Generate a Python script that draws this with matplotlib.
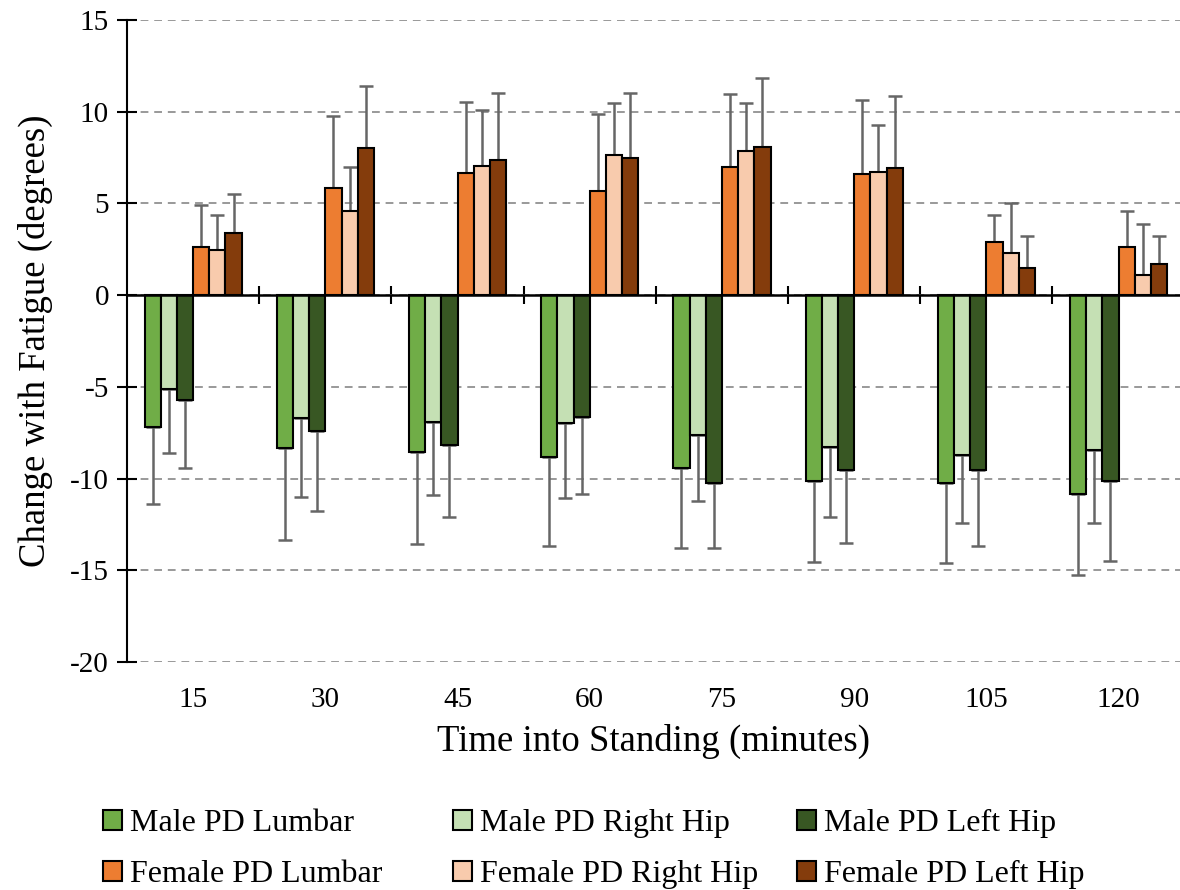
import numpy as np
import matplotlib.pyplot as plt

plt.rcParams['font.family'] = ['Liberation Serif', 'DejaVu Serif']
plt.rcParams['axes.unicode_minus'] = False

minutes = ['15', '30', '45', '60', '75', '90', '105', '120']
series = ['Male PD Lumbar', 'Male PD Right Hip', 'Male PD Left Hip',
          'Female PD Lumbar', 'Female PD Right Hip', 'Female PD Left Hip']
colors = ['#70AD47', '#C5E0B4', '#385723', '#ED7D31', '#F8CBAD', '#843C0C']

# mean change per series, one value per time point
male_lumbar = [-7.2, -8.35, -8.55, -8.8, -9.45, -10.15, -10.25, -10.85]
male_rhip = [-5.1, -6.7, -6.9, -6.95, -7.6, -8.3, -8.7, -8.45]
male_lhip = [-5.7, -7.4, -8.15, -6.65, -10.25, -9.55, -9.55, -10.15]
female_lumbar = [2.6, 5.85, 6.65, 5.7, 7.0, 6.6, 2.9, 2.65]
female_rhip = [2.45, 4.6, 7.05, 7.65, 7.85, 6.7, 2.3, 1.1]
female_lhip = [3.4, 8.0, 7.35, 7.5, 8.05, 6.95, 1.5, 1.7]

# standard deviations (drawn away from zero only)
male_lumbar_sd = [4.2, 5.0, 5.0, 4.9, 4.35, 4.4, 4.35, 4.4]
male_rhip_sd = [3.5, 4.3, 4.0, 4.1, 3.6, 3.8, 3.7, 3.95]
male_lhip_sd = [3.7, 4.35, 3.95, 4.2, 3.55, 3.95, 4.1, 4.35]
female_lumbar_sd = [2.3, 3.9, 3.9, 4.2, 3.95, 4.05, 1.45, 1.95]
female_rhip_sd = [1.9, 2.4, 3.05, 2.8, 2.65, 2.55, 2.75, 2.8]
female_lhip_sd = [2.1, 3.4, 3.65, 3.5, 3.8, 3.9, 1.75, 1.55]

means = [male_lumbar, male_rhip, male_lhip, female_lumbar, female_rhip, female_lhip]
sds = [male_lumbar_sd, male_rhip_sd, male_lhip_sd, female_lumbar_sd, female_rhip_sd, female_lhip_sd]

fig = plt.figure(figsize=(11.8, 8.9), dpi=100)
ax = fig.add_axes([127/1180, 1-662/890, 1-127/1180, 642/890])

x = np.arange(len(minutes))
w = 0.1225
handles = []
for i in range(6):
    m = np.array(means[i])
    s = np.array(sds[i])
    lower = np.where(m < 0, s, 0)
    upper = np.where(m > 0, s, 0)
    b = ax.bar(x + (i-2.5)*w, m, w, color=colors[i], edgecolor='black',
               linewidth=1.5, zorder=3, label=series[i])
    ax.errorbar(x + (i-2.5)*w, m, yerr=[lower, upper], fmt='none',
                ecolor='#666666', elinewidth=1.8, capsize=5, capthick=1.8, zorder=2)
    handles.append(b)

ax.set_ylim(-20, 15)
ax.set_xlim(-0.5, 7.465)
ax.set_yticks(np.arange(-20, 16, 5))
ax.yaxis.grid(True, linestyle=(0, (4, 3)), color='#999999', linewidth=1.4)
ax.set_axisbelow(True)

for sp in ['top', 'right']:
    ax.spines[sp].set_visible(False)
ax.spines['left'].set_linewidth(1.5)
ax.spines['bottom'].set_position(('data', 0))
ax.spines['bottom'].set_linewidth(1.8)
ax.spines['bottom'].set_zorder(4)

ax.set_xticks([])
ax.set_xticks(np.arange(0.5, 7.5, 1), minor=True)
ax.tick_params(axis='x', which='minor', direction='inout', length=13, width=1.5, labelbottom=False)
ax.tick_params(axis='y', direction='inout', length=14, width=1.5, labelsize=21, pad=6)

sec = ax.secondary_xaxis('bottom')
sec.set_xticks(x, minutes)
sec.tick_params(length=0, labelsize=21, pad=18)
sec.spines['bottom'].set_visible(False)
sec.set_xlabel('Time into Standing (minutes)', fontsize=26.5, labelpad=8)

ax.set_ylabel('Change with Fatigue (degrees)', fontsize=26.5, labelpad=12)

# one legend per column so the columns sit where they do in the original
col_x = [103, 453, 797]
for c in range(3):
    fig.legend([handles[c], handles[c+3]], [series[c], series[c+3]],
               loc='upper left', bbox_to_anchor=(col_x[c]/1180, 1-809/890),
               frameon=False, fontsize=23, handlelength=0.6, handleheight=0.6,
               handletextpad=0.25, labelspacing=0.7, borderpad=0, borderaxespad=0)

fig.savefig('out.png', dpi=100)
